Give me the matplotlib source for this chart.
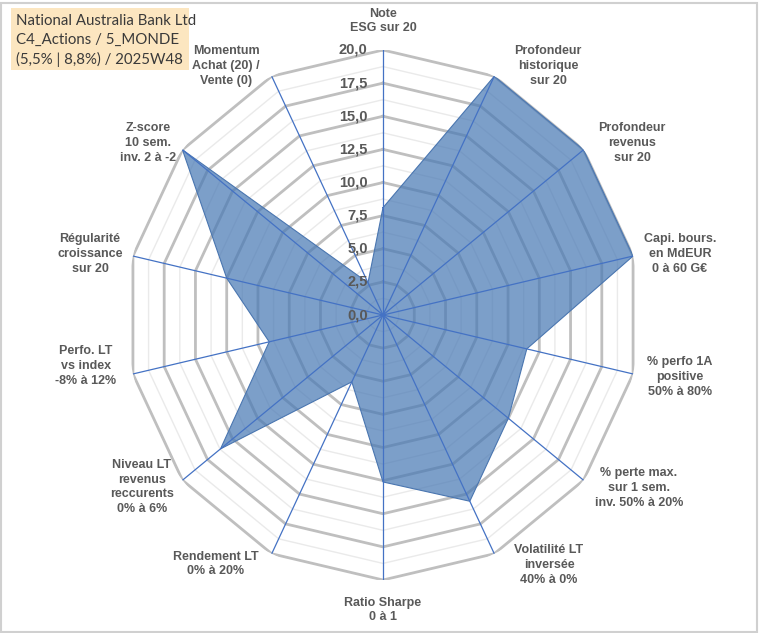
import numpy as np
import matplotlib
matplotlib.use("Agg")
import matplotlib.pyplot as plt
from matplotlib.patches import Rectangle

# chart data
categories = [
    "Note\nESG sur 20",
    "Profondeur\nhistorique\nsur 20",
    "Profondeur\nrevenus\nsur 20",
    "Capi. bours.\nen MdEUR\n0 à 60 G€",
    "% perfo 1A\npositive\n50% à 80%",
    "% perte max.\nsur 1 sem.\ninv. 50% à 20%",
    "Volatilité LT\ninversée\n40% à 0%",
    "Ratio Sharpe\n0 à 1",
    "Rendement LT\n0% à 20%",
    "Niveau LT\nrevenus\nreccurents\n0% à 6%",
    "Perfo. LT\nvs index\n-8% à 12%",
    "Régularité\ncroissance\nsur 20",
    "Z-score\n10 sem.\ninv. 2 à -2",
    "Momentum\nAchat (20) /\nVente (0)",
]
scores = [8.1, 20.0, 20.0, 20.0, 11.5, 12.5, 15.6, 12.6, 5.6, 16.2, 9.1, 12.5, 20.0, 2.7]
ticks = [0.0, 2.5, 5.0, 7.5, 10.0, 12.5, 15.0, 17.5, 20.0]
title_lines = ["National Australia Bank Ltd", "C4_Actions / 5_MONDE", "(5,5% | 8,8%) / 2025W48"]

# label centres in pixels (x from left, y from top)
label_px = [
    (383, 21), (548, 66), (632, 143), (680, 254), (680, 377), (639, 488), (549, 565),
    (383, 610), (216, 564), (142, 487), (86, 366), (90, 254), (148, 143), (226, 66),
]

W, H = 760, 633
TEXT = "#595959"
GRID = "#BFBFBF"
MINOR = "#EAEAEA"
SPOKE = "#4472C4"

plt.rcParams["font.family"] = ["Liberation Sans", "DejaVu Sans"]

fig = plt.figure(figsize=(W / 100, H / 100), dpi=100)
fig.patch.set_facecolor("white")

# Excel output is slightly squashed horizontally, so keep the polar box non-square
cx, cy, rx, ry = 383, 315, 256.5, 265
ax = fig.add_axes([(cx - rx) / W, (H - cy - ry) / H, 2 * rx / W, 2 * ry / H], projection="polar")
ax.set_aspect("auto")
ax.set_theta_zero_location("N")
ax.set_theta_direction(-1)
ax.set_ylim(0, 20)
ax.grid(False)
ax.spines["polar"].set_visible(False)
ax.set_xticks([])
ax.set_yticks([])
ax.patch.set_alpha(0)

n = len(categories)
angles = np.linspace(0, 2 * np.pi, n, endpoint=False)
closed = np.append(angles, angles[0])

# polygon grid
for r in np.arange(1.25, 20.01, 1.25):
    major = abs(r / 2.5 - round(r / 2.5)) < 1e-6
    ax.plot(closed, [r] * (n + 1),
            color=GRID if major else MINOR,
            lw=2.0 if major else 1.0, zorder=2 if major else 1)

# data polygon
vals = np.append(scores, scores[0])
ax.fill(closed, vals, color="#4A7AB5", alpha=0.72, zorder=3, lw=0)
ax.plot(closed, vals, color="#4A76B0", lw=0.8, zorder=4)

# spokes
for a in angles:
    ax.plot([a, a], [0, 20], color=SPOKE, lw=0.9, zorder=5)

# radial tick labels along the top axis
for t in ticks:
    ax.annotate(f"{t:.1f}".replace(".", ","), xy=(0, t), xytext=(-11, 0),
                textcoords="offset points", ha="right", va="center",
                fontsize=10.5, fontweight="bold", color=TEXT, zorder=6)

# category labels
for lab, (px, py) in zip(categories, label_px):
    fig.text(px / W, 1 - py / H, lab, ha="center", va="center", ma="center",
             fontsize=9, fontweight="bold", color=TEXT, linespacing=1.3)

# title box
fig.patches.append(Rectangle((11 / W, 1 - 70 / H), 178 / W, 62 / H,
                             transform=fig.transFigure, facecolor="#FCE6C0",
                             edgecolor="none", zorder=0))
for i, line in enumerate(title_lines):
    fig.text(16 / W, 1 - (21 + 19.3 * i) / H, line, ha="left", va="center",
             fontsize=10.8, color="#3A3A3A", family=["Lato", "DejaVu Sans"])

# outer border
fig.patches.append(Rectangle((1 / W, 1 / H), (W - 4) / W, (H - 4) / H,
                             transform=fig.transFigure, facecolor="none",
                             edgecolor="#D0D0D0", lw=1.5))

fig.savefig("out.png", dpi=100)
